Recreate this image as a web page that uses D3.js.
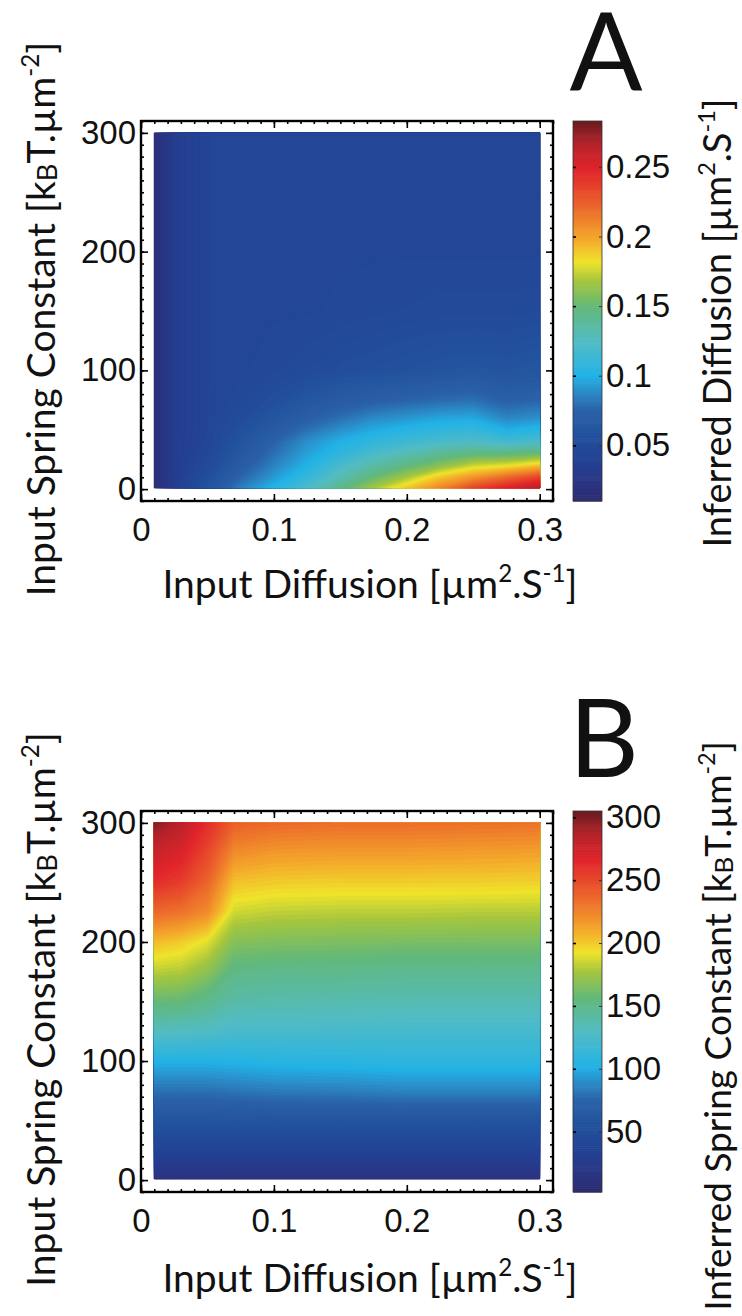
<!DOCTYPE html>
<html>
<head>
<meta charset="utf-8">
<script src="https://cdn.jsdelivr.net/npm/d3@7"></script>
<style>
  body { margin: 0; background: #fff; }
  svg { display: block; }
</style>
</head>
<body>
<div id="chart"></div>
<script>
// ---- data ----
// panel A : inferred diffusion vs input diffusion (x) and input spring constant (y)
const diffusionA = [0.01, 0.025, 0.05, 0.075, 0.1, 0.125, 0.15, 0.175, 0.2, 0.225, 0.25, 0.275, 0.3];
const springA = [1, 10, 20, 30, 40, 50, 60, 75, 100, 150, 200, 250, 300];
// one row per spring constant (bottom to top), one column per diffusion value
const inferredDiffusion = [
  [0.016, 0.034, 0.06, 0.085, 0.102, 0.122, 0.145, 0.168, 0.19, 0.21, 0.235, 0.25, 0.265],
  [0.016, 0.034, 0.055, 0.076, 0.093, 0.11, 0.13, 0.15, 0.168, 0.19, 0.205, 0.22, 0.235],
  [0.016, 0.034, 0.05, 0.069, 0.086, 0.101, 0.12, 0.135, 0.146, 0.16, 0.175, 0.18, 0.19],
  [0.016, 0.034, 0.047, 0.064, 0.08, 0.095, 0.107, 0.12, 0.13, 0.14, 0.146, 0.146, 0.151],
  [0.016, 0.034, 0.045, 0.06, 0.075, 0.09, 0.1, 0.108, 0.115, 0.12, 0.123, 0.117, 0.122],
  [0.016, 0.034, 0.044, 0.056, 0.068, 0.08, 0.09, 0.098, 0.103, 0.107, 0.109, 0.1, 0.104],
  [0.016, 0.034, 0.044, 0.052, 0.062, 0.072, 0.08, 0.088, 0.092, 0.096, 0.097, 0.087, 0.09],
  [0.016, 0.034, 0.044, 0.048, 0.055, 0.062, 0.068, 0.072, 0.075, 0.078, 0.08, 0.073, 0.076],
  [0.016, 0.034, 0.044, 0.046, 0.048, 0.051, 0.054, 0.056, 0.058, 0.06, 0.061, 0.06, 0.062],
  [0.016, 0.034, 0.044, 0.046, 0.046, 0.046, 0.047, 0.048, 0.049, 0.05, 0.05, 0.05, 0.051],
  [0.016, 0.034, 0.044, 0.046, 0.046, 0.046, 0.046, 0.046, 0.046, 0.046, 0.046, 0.046, 0.046],
  [0.016, 0.034, 0.044, 0.046, 0.046, 0.046, 0.046, 0.046, 0.046, 0.046, 0.046, 0.046, 0.046],
  [0.016, 0.034, 0.044, 0.046, 0.046, 0.046, 0.046, 0.046, 0.046, 0.046, 0.046, 0.046, 0.046]
];

// panel B : inferred spring constant
const diffusionB = [0.01, 0.03, 0.05, 0.07, 0.1, 0.15, 0.2, 0.25, 0.3];
const springB = [1, 25, 50, 75, 100, 125, 150, 175, 200, 225, 250, 275, 300];
const inferredSpring = [
  [14, 14, 14, 14, 14, 14, 14, 14, 14],
  [38, 38, 38, 38, 38, 38, 38, 38, 38],
  [58, 58, 58, 58, 58, 58, 58, 58, 58],
  [80, 80, 80, 82, 84, 85, 87, 87, 87],
  [103, 103, 103, 104, 106, 107, 109, 109, 109],
  [132, 130, 128, 124, 124, 123, 122, 122, 122],
  [158, 157, 150, 140, 138, 137, 136, 136, 136],
  [182, 180, 170, 152, 150, 150, 148, 148, 148],
  [205, 200, 190, 168, 166, 165, 164, 164, 164],
  [236, 232, 222, 186, 183, 182, 182, 181, 181],
  [262, 255, 238, 203, 200, 199, 199, 199, 198],
  [278, 270, 250, 222, 217, 216, 216, 215, 214],
  [298, 285, 262, 240, 236, 234, 234, 233, 232]
];

const xTicks = [0, 0.1, 0.2, 0.3];
const yTicks = [0, 100, 200, 300];
const cbTicksA = [0.05, 0.1, 0.15, 0.2, 0.25];
const cbTicksB = [50, 100, 150, 200, 250, 300];
const cbRangeA = [0.01, 0.283];
const cbRangeB = [2, 305];

// muted "jet" as printed in the figure
const jetStops = [0, 0.04, 0.1, 0.17, 0.24, 0.29, 0.33, 0.42, 0.51, 0.58, 0.63, 0.69, 0.77, 0.87, 0.94, 1];
const jetColors = ["#2a2a6e", "#2b3480", "#233f92", "#22509c", "#2a62a8", "#2b8cc8", "#22b2e6", "#52bcc4",
  "#62b87a", "#a5c63e", "#efe32b", "#f4a82b", "#ec6a2b", "#e2252b", "#b5222a", "#6a1c20"];
const jet = d3.scaleLinear().domain(jetStops).range(jetColors).interpolate(d3.interpolateRgb).clamp(true);

const W = 742, H = 1316;
const tickFont = "'Liberation Sans', Arial, Helvetica, sans-serif";
const titleFont = "Lato, 'Open Sans', sans-serif";

const svg = d3.select("#chart").append("svg")
  .attr("width", W).attr("height", H)
  .style("background", "#fff");

// text with super/subscripts
function richText(sel, parts, size) {
  let shift = 0;
  parts.forEach(p => {
    const s = p.sup ? -0.42 * size : p.sub ? 0.06 * size : 0;
    sel.append("tspan")
      .attr("font-size", p.sup ? size * 0.62 : p.sub ? size * 0.7 : size)
      .attr("dy", s - shift)
      .text(p.t);
    shift = s;
  });
}

const diffLabel = [{t: "Input Diffusion [µm"}, {t: "2", sup: true}, {t: ".S"}, {t: "-1", sup: true}, {t: "]"}];
const springLabel = [{t: "Input Spring Constant [k"}, {t: "B", sub: true}, {t: "T.µm"}, {t: "-2", sup: true}, {t: "]"}];

function drawPanel(o) {
  const x = d3.scaleLinear().domain([0, 0.31]).range([141, 553]);
  const y = d3.scaleLinear().domain([-10, 310]).range([o.bottom, o.top]);
  const g = svg.append("g");

  // heat map as filled contours
  const n = o.xs.length, m = o.ys.length;
  const values = o.grid.flat();
  const [lo, hi] = o.cbRange;
  const levels = 120;
  const thresholds = d3.range(levels).map(i => lo + (hi - lo) * i / levels);
  const contours = d3.contours().size([n, m]).thresholds(thresholds)(values);
  const xi = d3.scaleLinear().domain(d3.range(n)).range(o.xs).clamp(true);
  const yi = d3.scaleLinear().domain(d3.range(m)).range(o.ys).clamp(true);
  const proj = d3.geoTransform({
    point(px, py) { this.stream.point(x(xi(px - 0.5)), y(yi(py - 0.5))); }
  });
  const path = d3.geoPath(proj);
  const color = v => jet((v - lo) / (hi - lo));
  const step = (hi - lo) / levels;
  g.append("g").selectAll("path")
    .data(contours)
    .join("path")
    .attr("d", path)
    .attr("fill", d => color(d.value + step / 2))
    .attr("stroke", d => color(d.value + step / 2))
    .attr("stroke-width", 0.4);

  // frame with inward ticks on all four sides
  const [x0, x1] = x.range();
  const yb = y.range()[0], yt = y.range()[1];
  const minorX = d3.range(0, 32).map(i => i / 100);
  const minorY = d3.range(-10, 311, 10);
  const addAxis = (axis, tx, ty) => {
    const a = g.append("g").attr("transform", `translate(${tx},${ty})`).call(axis);
    a.select(".domain").remove();
    a.selectAll("line").attr("stroke", "#000").attr("stroke-width", 1.6);
    return a;
  };
  addAxis(d3.axisBottom(x).tickValues(minorX).tickSize(-3).tickFormat(""), 0, yb);
  addAxis(d3.axisTop(x).tickValues(minorX).tickSize(-3).tickFormat(""), 0, yt);
  addAxis(d3.axisLeft(y).tickValues(minorY).tickSize(-3).tickFormat(""), x0, 0);
  addAxis(d3.axisRight(y).tickValues(minorY).tickSize(-3).tickFormat(""), x1, 0);
  addAxis(d3.axisTop(x).tickValues(xTicks).tickSize(-7).tickFormat(""), 0, yt);
  addAxis(d3.axisRight(y).tickValues(yTicks).tickSize(-7).tickFormat(""), x1, 0);
  const bx = addAxis(d3.axisBottom(x).tickValues(xTicks).tickSize(-7).tickPadding(17).tickFormat(d3.format("~g")), 0, yb);
  const ly = addAxis(d3.axisLeft(y).tickValues(yTicks).tickSize(-7).tickPadding(5), x0, 0);
  [bx, ly].forEach(a => a.selectAll("text")
    .attr("font-family", tickFont).attr("font-size", 33).attr("fill", "#111"));

  g.append("rect")
    .attr("x", x0).attr("y", yt)
    .attr("width", x1 - x0).attr("height", yb - yt)
    .attr("fill", "none").attr("stroke", "#000").attr("stroke-width", 2.4);

  // colour bar
  const cy = d3.scaleLinear().domain(o.cbRange).range([o.bottom, o.top]);
  const slices = d3.range(200).map(i => lo + (hi - lo) * i / 200);
  g.append("g").selectAll("rect")
    .data(slices)
    .join("rect")
    .attr("x", 573).attr("width", 29)
    .attr("y", d => cy(d + (hi - lo) / 200))
    .attr("height", d => cy(d) - cy(d + (hi - lo) / 200) + 0.6)
    .attr("fill", d => color(d + (hi - lo) / 400));
  g.append("rect")
    .attr("x", 573).attr("y", o.top).attr("width", 29).attr("height", o.bottom - o.top)
    .attr("fill", "none").attr("stroke", "#333").attr("stroke-width", 0.8);
  addAxis(d3.axisLeft(cy).tickValues(o.cbTicks).tickSize(-3).tickFormat(""), 573, 0);
  const cb = addAxis(d3.axisRight(cy).tickValues(o.cbTicks).tickSize(-3).tickPadding(4).tickFormat(o.cbFormat), 602, 0);
  cb.selectAll("line").attr("stroke", "#333").attr("stroke-width", 1);
  cb.selectAll("text").attr("font-family", tickFont).attr("font-size", 33).attr("fill", "#111");

  // titles
  const mid = (o.top + o.bottom) / 2;
  const xt = svg.append("text")
    .attr("x", 370).attr("y", o.bottom + o.xTitleGap)
    .attr("text-anchor", "middle")
    .attr("font-family", titleFont).attr("fill", "#111");
  richText(xt, diffLabel, 39);

  const yt2 = svg.append("text")
    .attr("transform", `translate(55,${mid + 8})rotate(-90)`)
    .attr("text-anchor", "middle")
    .attr("font-family", titleFont).attr("fill", "#111");
  richText(yt2, springLabel, 39);

  const ct = svg.append("text")
    .attr("transform", `translate(731,${o.cbCenter})rotate(-90)`)
    .attr("text-anchor", "middle")
    .attr("font-family", titleFont).attr("fill", "#111");
  richText(ct, o.cbLabel, o.cbLabelSize);

  svg.append("text")
    .attr("x", o.letterX).attr("y", o.letterY)
    .attr("text-anchor", "middle")
    .attr("font-family", titleFont).attr("font-size", 108).attr("fill", "#111")
    .text(o.key);
}

drawPanel({
  key: "A", top: 121, bottom: 501, xTitleGap: 97,
  xs: diffusionA, ys: springA, grid: inferredDiffusion,
  cbRange: cbRangeA, cbTicks: cbTicksA, cbFormat: d3.format("~g"),
  cbLabel: [{t: "Inferred Diffusion [µm"}, {t: "2", sup: true}, {t: ".S"}, {t: "-1", sup: true}, {t: "]"}],
  cbLabelSize: 38, cbCenter: 323, letterX: 606, letterY: 90
});

drawPanel({
  key: "B", top: 811, bottom: 1192, xTitleGap: 100,
  xs: diffusionB, ys: springB, grid: inferredSpring,
  cbRange: cbRangeB, cbTicks: cbTicksB, cbFormat: d3.format("d"),
  cbLabel: [{t: "Inferred Spring Constant [k"}, {t: "B", sub: true}, {t: "T.µm"}, {t: "-2", sup: true}, {t: "]"}],
  cbLabelSize: 37, cbCenter: 1026, letterX: 604, letterY: 777
});
</script>
</body>
</html>
